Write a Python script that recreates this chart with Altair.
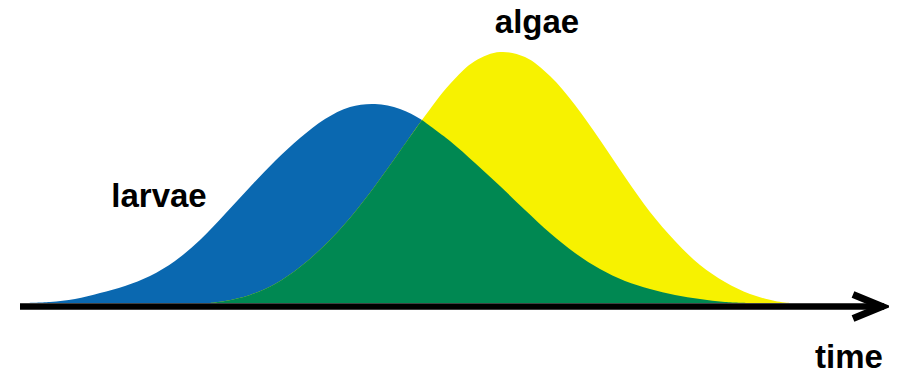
import altair as alt
import pandas as pd

# Larvae (blue) curve: time position and height
larvae_t = [25, 50, 75, 100, 125, 150, 175, 200, 225, 250, 275, 300, 325, 350, 375, 400,
            422, 450, 475, 500, 525, 550, 575, 600, 625, 650, 675, 700, 725, 750]
larvae_v = [0, 1, 4, 10, 17, 27, 42, 63, 89, 116, 142, 165, 184, 196, 199, 194,
            183, 162, 140, 117, 93, 70, 50, 34, 22, 14, 8, 4, 1, 0]

# Algae (yellow) curve
algae_t = [210, 225, 250, 275, 300, 325, 350, 375, 400, 422, 450, 475, 500, 525,
           550, 575, 600, 625, 650, 675, 700, 725, 750, 775, 790]
algae_v = [0, 2, 8, 19, 36, 58, 85, 117, 152, 183, 219, 242, 251, 246,
           227, 198, 163, 126, 91, 62, 38, 21, 9, 2, 0]

# crossing of the two curves
cross_t = 422

# axis arrow
axis_t = [20, 884]
axis_v = [-3.5, -3.5]
head_t = [853, 882, 853]
head_v = [8.5, -3.5, -15.5]

label_text = ["larvae", "algae", "time"]
label_t = [159, 537, 849]
label_v = [96, 270, -65]

BLUE = "#0A68B0"
YELLOW = "#F7F200"
GREEN = "#008852"

xs = alt.Scale(domain=[8, 889], nice=False, zero=False)
ys = alt.Scale(domain=[-67, 295], nice=False, zero=False)

larvae = pd.DataFrame({"t": larvae_t, "v": larvae_v})
algae = pd.DataFrame({"t": algae_t, "v": algae_v})
green_left = algae[algae.t <= cross_t].assign(part="a")
green_right = larvae[larvae.t >= cross_t].assign(part="b")
green = pd.concat([green_left, green_right])


def area(df, color, detail=False):
    enc = dict(
        x=alt.X("t:Q", scale=xs, axis=None),
        y=alt.Y("v:Q", scale=ys, axis=None),
        y2=alt.datum(0),
    )
    if detail:
        enc["detail"] = "part:N"
    return alt.Chart(df).mark_area(interpolate="catmull-rom", color=color).encode(**enc)


blue_layer = area(larvae, BLUE)
yellow_layer = area(algae, YELLOW)
green_layer = area(green, GREEN, detail=True)

axis_df = pd.DataFrame({"t": axis_t, "v": axis_v})
axis_layer = alt.Chart(axis_df).mark_line(color="black", strokeWidth=6.5).encode(
    x=alt.X("t:Q", scale=xs, axis=None), y=alt.Y("v:Q", scale=ys, axis=None)
)
head_df = pd.DataFrame({"t": head_t, "v": head_v, "o": [0, 1, 2]})
head_layer = alt.Chart(head_df).mark_line(
    color="black", strokeWidth=7, strokeJoin="miter", strokeMiterLimit=10
).encode(
    x=alt.X("t:Q", scale=xs, axis=None),
    y=alt.Y("v:Q", scale=ys, axis=None),
    order="o:Q",
)

labels_df = pd.DataFrame({"text": label_text, "t": label_t, "v": label_v})
labels_layer = alt.Chart(labels_df).mark_text(
    font="Liberation Sans", fontWeight="bold", fontSize=33, align="center",
    baseline="alphabetic", color="black"
).encode(
    x=alt.X("t:Q", scale=xs, axis=None),
    y=alt.Y("v:Q", scale=ys, axis=None),
    text="text:N",
)

chart = alt.layer(
    blue_layer, yellow_layer, green_layer, axis_layer, head_layer, labels_layer
).properties(
    width=881, height=362, padding=0,
    autosize=alt.AutoSizeParams(type="none"),
).configure_view(stroke=None)

chart.save("out.html", embed_options={"renderer": "svg", "actions": False})
